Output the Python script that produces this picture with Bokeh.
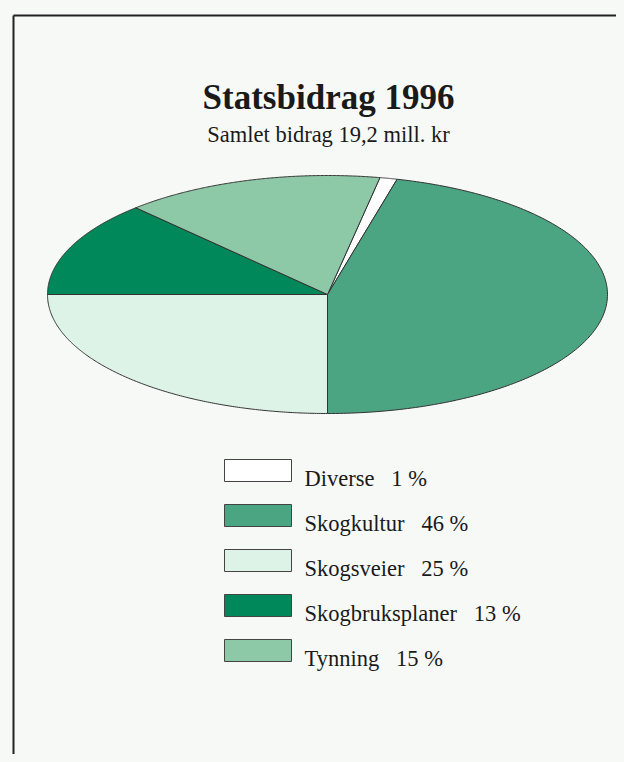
import numpy as np
from bokeh.plotting import figure
from bokeh.models import Range1d, ColumnDataSource
from bokeh.core.properties import value
from bokeh.embed import file_html
from bokeh.resources import INLINE

# ---- data ----
title = "Statsbidrag 1996"
subtitle = "Samlet bidrag 19,2 mill. kr"
categories = ["Diverse", "Skogkultur", "Skogsveier", "Skogbruksplaner", "Tynning"]
percent = [1, 46, 25, 13, 15]

# ---- styles ----
colors = ["#ffffff", "#4ba583", "#def3e8", "#00875a", "#8dc9a7"]
bg = "#f7f9f6"
serif = value("Liberation Serif")

W, H = 616, 754
p = figure(width=W, height=H, output_backend="svg", toolbar_location=None,
           x_range=Range1d(0, W), y_range=Range1d(H, 0),
           min_border=0, background_fill_color=bg, border_fill_color=bg)
p.axis.visible = False
p.grid.visible = False
p.outline_line_color = None

# frame lines (scan border)
p.line(x=[13, 640], y=[15, 15], line_color="#222222", line_width=2)
p.line(x=[13, 13], y=[15, 780], line_color="#222222", line_width=2)

# title
p.text(x=[328], y=[97], text=[title], text_font=serif, text_font_style="bold",
       text_font_size="35px", text_align="center", text_baseline="alphabetic",
       text_color="#1a1a1a")
p.text(x=[328], y=[134], text=[subtitle], text_font=serif,
       text_font_size="22.5px", text_align="center", text_baseline="alphabetic",
       text_color="#1a1a1a")

# elliptical pie
cx, cy, a, b = 327, 294, 280, 119
start_deg = 79.2
fr = np.array(percent, dtype=float) / sum(percent)
ends = start_deg - np.cumsum(fr) * 360
starts = np.concatenate([[start_deg], ends[:-1]])
xs, ys = [], []
for s, e in zip(starts, ends):
    t = np.radians(np.linspace(s, e, 200))
    xs.append([cx] + list(cx + a * np.cos(t)))
    ys.append([cy] + list(cy - b * np.sin(t)))
p.patches(xs=xs, ys=ys, fill_color=colors, line_color="#333333", line_width=1)

# legend
ly0, dy = 470, 45
ly = [ly0 + i * dy for i in range(len(categories))]
src = ColumnDataSource(dict(
    left=[224] * len(categories), right=[291] * len(categories),
    top=[y - 11 for y in ly], bottom=[y + 11 for y in ly],
    color=colors,
    label=[f"{c}\u2002\u2005{v} %" for c, v in zip(categories, percent)],
    tx=[304] * len(categories), ty=[y + 8 for y in ly]))
p.quad(left="left", right="right", top="top", bottom="bottom", fill_color="color",
       line_color="#444444", line_width=1, source=src)
p.text(x="tx", y="ty", text="label", text_font=serif, text_font_size="22.5px",
       text_baseline="alphabetic", text_color="#1a1a1a", source=src)

html = file_html(p, INLINE)
html = html.replace("<body>", '<body style="background:%s">' % bg)
open("out.html", "w").write(html)
